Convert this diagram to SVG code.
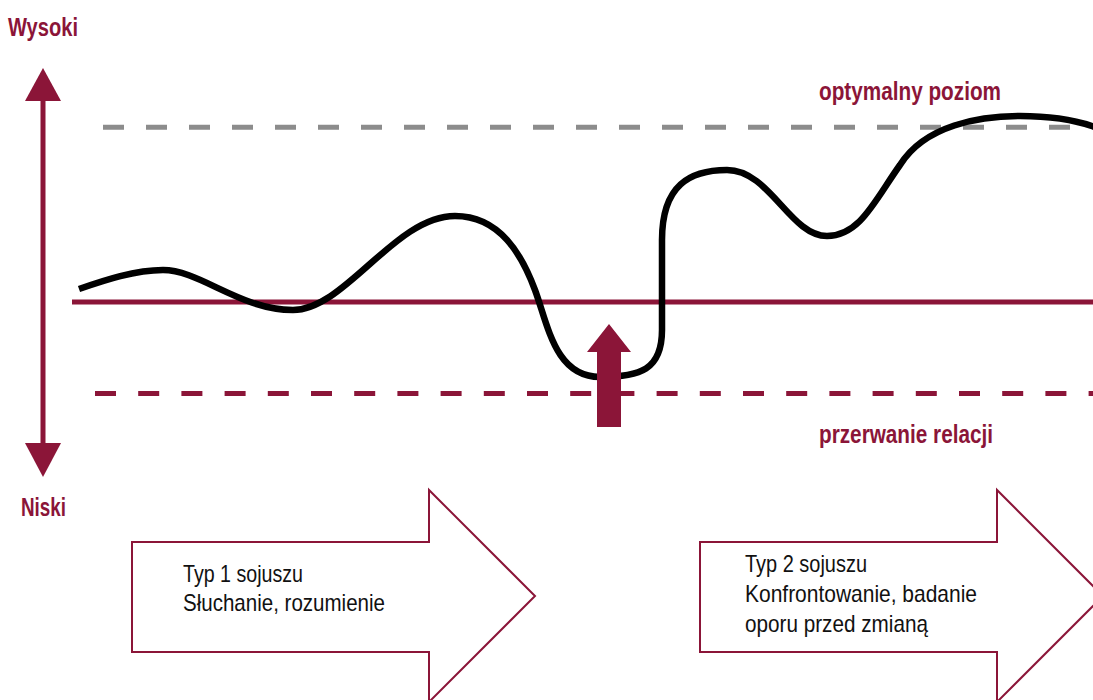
<svg xmlns="http://www.w3.org/2000/svg" width="1093" height="700" viewBox="0 0 1093 700">
  <style>
    .lbl { font-family: "Liberation Sans Narrow", "Liberation Sans", Arial, sans-serif; font-weight: bold; font-size: 25px; fill: #8b1538; }
    .txt { font-family: "Liberation Sans Narrow", "Liberation Sans", Arial, sans-serif; font-size: 24px; fill: #111111; }
    .maroon { fill: #8b1538; }
    .block { fill: #ffffff; stroke: #8b1538; stroke-width: 2; }
  </style>
  <rect width="1093" height="700" fill="#ffffff"/>

  <g id="axis">
    <rect class="maroon" x="40.5" y="100" width="5" height="345"/>
    <polygon class="maroon" points="43,68 61,101 25,101"/>
    <polygon class="maroon" points="43,477 61,443 25,443"/>
    <text class="lbl" x="8" y="36" textLength="70" lengthAdjust="spacingAndGlyphs">Wysoki</text>
    <text class="lbl" x="21" y="516" textLength="45" lengthAdjust="spacingAndGlyphs">Niski</text>
  </g>

  <g id="connectors">
    <line x1="103" y1="127.3" x2="1093" y2="127.3" stroke="#8c8c8c" stroke-width="5" stroke-dasharray="21 22"/>
    <line x1="72" y1="302" x2="1093" y2="302" stroke="#8b1538" stroke-width="5"/>
    <line x1="95" y1="393.5" x2="1093" y2="393.5" stroke="#8b1538" stroke-width="5" stroke-dasharray="21 22.2"/>
    <path d="M79,289 C105,280 135,270 163,270 C200,270 240,310 293,310 C345,310 395,216 455,216 C500,216 522,255 535,290 C548,325 555,377 600,377 C640,377 662,370 662,330 L662,240 C662,185 690,170 727,170 C770,170 790,236 827,236 C860,236 875,200 900,165 C925,125 980,116 1020,116 C1050,116 1075,120 1095,127" fill="none" stroke="#000000" stroke-width="6.5"/>
  </g>

  <g id="up-arrow">
    <polygon class="maroon" points="609,324 631,352 621,352 621,427 597,427 597,352 587,352"/>
  </g>

  <g id="labels">
    <text class="lbl" x="819" y="100" textLength="182" lengthAdjust="spacingAndGlyphs">optymalny poziom</text>
    <text class="lbl" x="819" y="443" textLength="174" lengthAdjust="spacingAndGlyphs">przerwanie relacji</text>
  </g>

  <g id="alliance-1">
    <polygon class="block" points="132,542 429,542 429,490 535,596 429,702 429,652 132,652"/>
    <text class="txt" x="183" y="582" textLength="120" lengthAdjust="spacingAndGlyphs">Typ 1 sojuszu</text>
    <text class="txt" x="183" y="611" textLength="202" lengthAdjust="spacingAndGlyphs">Słuchanie, rozumienie</text>
  </g>

  <g id="alliance-2">
    <polygon class="block" points="700,542 997,542 997,490 1103,596 997,702 997,652 700,652"/>
    <text class="txt" x="745" y="572" textLength="122" lengthAdjust="spacingAndGlyphs">Typ 2 sojuszu</text>
    <text class="txt" x="745" y="602" textLength="232" lengthAdjust="spacingAndGlyphs">Konfrontowanie, badanie</text>
    <text class="txt" x="745" y="632" textLength="183" lengthAdjust="spacingAndGlyphs">oporu przed zmianą</text>
  </g>
</svg>
